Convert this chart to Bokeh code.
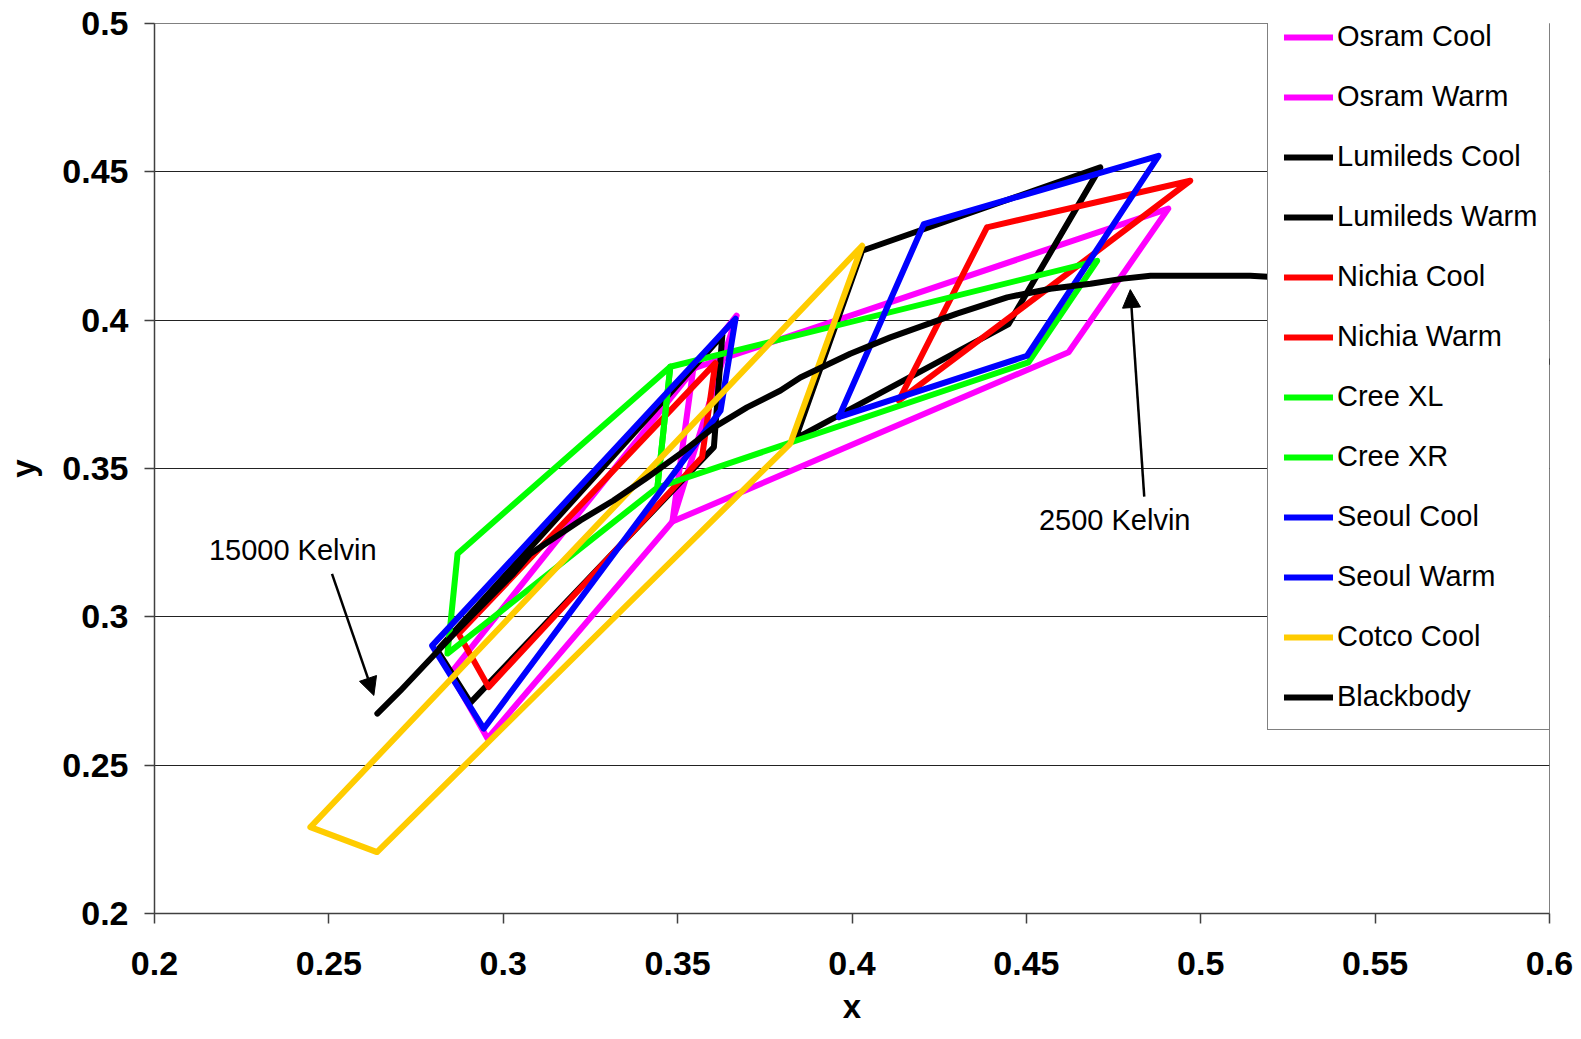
from bokeh.plotting import figure
from bokeh.models import Range1d, FixedTicker, Legend, LegendItem, Label, Arrow, NormalHead
from bokeh.embed import file_html
from bokeh.resources import INLINE

# ---------------- data (CIE 1931 x, y) ----------------
series_names = ["Osram Cool", "Osram Warm", "Lumileds Cool", "Lumileds Warm",
                "Nichia Cool", "Nichia Warm", "Cree XL", "Cree XR",
                "Seoul Cool", "Seoul Warm", "Cotco Cool", "Blackbody"]
series_colors = ["#FF00FF", "#FF00FF", "#000000", "#000000",
                 "#FF0000", "#FF0000", "#00FF00", "#00FF00",
                 "#0000FF", "#0000FF", "#FFCC00", "#000000"]

osram_cool_x = [0.3669, 0.2849, 0.2955, 0.3485, 0.3669]
osram_cool_y = [0.4015, 0.2809, 0.2590, 0.3321, 0.4015]
osram_warm_x = [0.3545, 0.4907, 0.4621, 0.3485, 0.3545]
osram_warm_y = [0.3837, 0.4376, 0.3892, 0.3321, 0.3837]
lumileds_cool_x = [0.3628, 0.3604, 0.2906, 0.2811, 0.3628]
lumileds_cool_y = [0.3948, 0.3572, 0.2711, 0.2887, 0.3948]
lumileds_warm_x = [0.4029, 0.4712, 0.4449, 0.3838, 0.4029]
lumileds_warm_y = [0.4234, 0.4515, 0.3987, 0.3601, 0.4234]
nichia_cool_x = [0.3608, 0.3570, 0.2958, 0.2872, 0.3608]
nichia_cool_y = [0.3855, 0.3538, 0.2763, 0.2943, 0.3855]
nichia_warm_x = [0.4387, 0.4970, 0.4554, 0.4134, 0.4387]
nichia_warm_y = [0.4313, 0.4470, 0.4100, 0.3729, 0.4313]
cree_xl_x = [0.3479, 0.2869, 0.2840, 0.3442, 0.3479]
cree_xl_y = [0.3843, 0.3213, 0.2876, 0.3436, 0.3843]
cree_xr_x = [0.3479, 0.4703, 0.4506, 0.3442, 0.3479]
cree_xr_y = [0.3843, 0.4200, 0.3858, 0.3436, 0.3843]
seoul_cool_x = [0.3666, 0.3623, 0.2944, 0.2796, 0.3666]
seoul_cool_y = [0.4005, 0.3695, 0.2623, 0.2903, 0.4005]
seoul_warm_x = [0.3962, 0.4206, 0.4879, 0.4502, 0.3962]
seoul_warm_y = [0.3673, 0.4324, 0.4554, 0.3880, 0.3673]
cotco_cool_x = [0.2447, 0.4029, 0.3823, 0.2638, 0.2447]
cotco_cool_y = [0.2291, 0.4251, 0.3584, 0.2207, 0.2291]
blackbody_x = [0.2639, 0.2705, 0.2868, 0.3029, 0.3078, 0.3221, 0.3316, 0.3413,
               0.3508, 0.3603, 0.3699, 0.3795, 0.3852, 0.3995, 0.4110, 0.4301,
               0.4445, 0.4569, 0.4684, 0.4778, 0.4856, 0.5142, 0.5270, 0.5500,
               0.5750, 0.6000]
blackbody_y = [0.2674, 0.2751, 0.2954, 0.3146, 0.3213, 0.3325, 0.3392, 0.3470,
               0.3550, 0.3638, 0.3706, 0.3763, 0.3807, 0.3887, 0.3942, 0.4022,
               0.4077, 0.4106, 0.4123, 0.4140, 0.4150, 0.4150, 0.4140, 0.4085,
               0.3995, 0.3860]

series_x = [osram_cool_x, osram_warm_x, lumileds_cool_x, lumileds_warm_x,
            nichia_cool_x, nichia_warm_x, cree_xl_x, cree_xr_x,
            seoul_cool_x, seoul_warm_x, cotco_cool_x, blackbody_x]
series_y = [osram_cool_y, osram_warm_y, lumileds_cool_y, lumileds_warm_y,
            nichia_cool_y, nichia_warm_y, cree_xl_y, cree_xr_y,
            seoul_cool_y, seoul_warm_y, cotco_cool_y, blackbody_y]

x_ticks = [0.2, 0.25, 0.3, 0.35, 0.4, 0.45, 0.5, 0.55, 0.6]
x_tick_labels = ["0.2", "0.25", "0.3", "0.35", "0.4", "0.45", "0.5", "0.55", "0.6"]
y_ticks = [0.2, 0.25, 0.3, 0.35, 0.4, 0.45, 0.5]
y_tick_labels = ["0.2", "0.25", "0.3", "0.35", "0.4", "0.45", "0.5"]

FONT = "Liberation Sans"

p = figure(width=1581, height=1039,
           x_range=Range1d(0.2, 0.6), y_range=Range1d(0.2, 0.5),
           output_backend="svg", toolbar_location=None,
           min_border_left=154, min_border_right=32,
           min_border_top=23, min_border_bottom=126)
p.background_fill_color = "white"
p.border_fill_color = "white"
p.outline_line_color = "#808080"
p.outline_line_width = 1

# grid
p.xgrid.visible = False
p.ygrid.ticker = FixedTicker(ticks=y_ticks)
p.ygrid.grid_line_color = "#222222"
p.ygrid.grid_line_width = 1

# axes
for ax in (p.xaxis[0], p.yaxis[0]):
    ax.axis_line_color = "#404040"
    ax.axis_line_width = 1.5
    ax.major_tick_line_color = "#404040"
    ax.major_tick_line_width = 1.5
    ax.major_tick_out = 10
    ax.major_tick_in = 0
    ax.minor_tick_line_color = None
    ax.major_label_text_font = FONT
    ax.major_label_text_font_style = "bold"
    ax.major_label_text_font_size = "34px"
    ax.major_label_text_color = "black"
    ax.axis_label_text_font = FONT
    ax.axis_label_text_font_style = "bold"
    ax.axis_label_text_font_size = "33px"
    ax.axis_label_text_color = "black"

p.xaxis.ticker = FixedTicker(ticks=x_ticks)
p.xaxis.major_label_overrides = dict(zip(x_ticks, x_tick_labels))
p.xaxis.major_label_standoff = 28
p.xaxis.axis_label = "x"
p.xaxis.axis_label_standoff = 10
p.yaxis.ticker = FixedTicker(ticks=y_ticks)
p.yaxis.major_label_overrides = dict(zip(y_ticks, y_tick_labels))
p.yaxis.major_label_standoff = 16
p.yaxis.axis_label = "y"
p.yaxis.axis_label_standoff = 17

# series
items = []
for name, color, xs, ys in zip(series_names, series_colors, series_x, series_y):
    r = p.line(xs, ys, line_color=color, line_width=6,
               line_join="round", line_cap="round")
    items.append(LegendItem(label=name, renderers=[r]))

legend = Legend(items=items, location=(1113, 183), orientation="vertical",
                label_text_font=FONT, label_text_font_size="29px",
                label_text_color="black",
                glyph_width=49, glyph_height=32, label_height=32, label_width=203,
                label_standoff=4, spacing=27, padding=16, margin=0,
                border_line_color="#808080", border_line_width=1.5,
                border_line_alpha=1.0,
                background_fill_color="white", background_fill_alpha=1.0)
p.add_layout(legend)

# annotations
p.add_layout(Label(x=0.2156, y=0.3224, text="15000 Kelvin", text_font=FONT,
                   text_font_size="29px", text_color="black",
                   text_baseline="alphabetic"))
p.add_layout(Arrow(end=NormalHead(size=18, fill_color="black", line_color="black"),
                   x_start=0.2509, y_start=0.3145, x_end=0.2629, y_end=0.2735,
                   line_color="black", line_width=2.5))
p.add_layout(Label(x=0.4536, y=0.3328, text="2500 Kelvin", text_font=FONT,
                   text_font_size="29px", text_color="black",
                   text_baseline="alphabetic"))
p.add_layout(Arrow(end=NormalHead(size=18, fill_color="black", line_color="black"),
                   x_start=0.4838, y_start=0.3405, x_end=0.4798, y_end=0.4103,
                   line_color="black", line_width=2.5))

open("out.html", "w").write(file_html(p, INLINE))
